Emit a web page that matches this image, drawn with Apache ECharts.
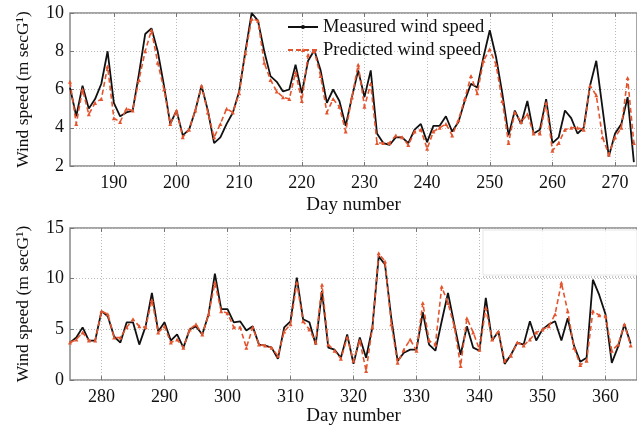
<!DOCTYPE html>
<html><head><meta charset="utf-8">
<script src="https://cdn.jsdelivr.net/npm/echarts@6/dist/echarts.min.js"></script>
<style>html,body{margin:0;padding:0;background:#fff}#c{width:637px;height:427px}</style>
</head><body><div id="c"></div>
<script>
// Top panel: days 183..273
const days1 = [183,184,185,186,187,188,189,190,191,192,193,194,195,196,197,198,199,200,201,202,203,204,205,206,207,208,209,210,211,212,213,214,215,216,217,218,219,220,221,222,223,224,225,226,227,228,229,230,231,232,233,234,235,236,237,238,239,240,241,242,243,244,245,246,247,248,249,250,251,252,253,254,255,256,257,258,259,260,261,262,263,264,265,266,267,268,269,270,271,272,273];
const measured1 = [6.1,4.6,6.2,5.0,5.5,6.3,8.0,5.3,4.6,4.8,4.9,6.8,8.9,9.2,8.0,6.2,4.2,4.9,3.6,3.9,4.9,6.2,4.9,3.2,3.5,4.2,4.8,5.9,8.0,10.0,9.6,8.0,6.7,6.4,5.9,6.0,7.3,5.8,7.5,8.05,7.0,5.3,6.0,5.4,4.1,5.6,7.0,5.6,7.0,3.7,3.2,3.1,3.5,3.5,3.2,3.9,4.2,3.25,4.1,4.1,4.6,3.8,4.3,5.4,6.3,6.1,7.7,9.1,7.7,5.8,3.6,4.9,4.2,5.4,3.7,3.9,5.5,3.2,3.5,4.9,4.5,3.7,4.0,6.2,7.5,5.0,2.5,3.7,4.2,5.6,2.2];
const predicted1 = [6.4,4.2,6.0,4.7,5.3,5.5,7.2,4.5,4.3,5.0,4.9,6.5,8.0,9.1,7.4,6.0,4.2,4.9,3.5,3.9,4.9,6.2,4.8,3.5,4.2,5.0,4.8,5.8,7.9,9.7,9.6,7.4,6.5,5.9,5.6,5.5,6.9,5.4,7.8,8.0,6.7,4.8,5.5,5.1,3.8,5.6,7.3,5.1,6.3,3.2,3.2,3.2,3.6,3.5,3.1,3.8,3.9,2.9,3.8,4.0,4.2,3.6,4.4,5.5,6.7,5.8,7.5,8.1,7.3,5.4,3.2,4.8,4.3,4.7,3.7,3.7,5.3,2.8,3.2,3.9,4.0,4.0,3.9,6.2,5.7,3.5,2.6,3.5,4.0,6.6,3.2];
// Bottom panel: days 275..364
const days2 = [275,276,277,278,279,280,281,282,283,284,285,286,287,288,289,290,291,292,293,294,295,296,297,298,299,300,301,302,303,304,305,306,307,308,309,310,311,312,313,314,315,316,317,318,319,320,321,322,323,324,325,326,327,328,329,330,331,332,333,334,335,336,337,338,339,340,341,342,343,344,345,346,347,348,349,350,351,352,353,354,355,356,357,358,359,360,361,362,363,364];
const measured2 = [3.7,4.2,5.2,3.9,3.9,6.8,6.3,4.3,3.7,5.7,5.7,3.5,5.3,8.6,4.8,5.7,3.9,4.5,3.2,5.0,5.3,4.5,6.5,10.5,7.0,7.0,5.7,5.8,4.9,5.3,3.5,3.4,3.2,2.1,5.2,5.8,10.1,6.0,5.7,3.5,8.8,3.2,3.0,2.2,4.5,1.6,4.2,2.2,5.2,12.2,11.4,6.1,1.9,2.7,3.0,3.0,6.7,3.5,2.9,5.8,8.6,5.5,2.5,5.3,3.2,2.9,8.1,3.9,4.8,1.6,2.5,3.7,3.5,5.8,3.9,5.0,5.5,5.8,3.9,6.1,3.4,1.8,2.2,9.9,8.4,6.5,1.7,3.3,5.5,3.6];
const predicted2 = [3.7,4.0,4.7,3.9,3.9,6.8,6.5,4.2,4.2,5.2,6.0,5.3,5.2,7.9,4.7,5.3,3.7,4.0,3.2,5.0,5.5,4.5,6.5,9.6,6.8,6.6,5.2,5.2,3.2,5.2,3.5,3.4,3.2,2.4,4.8,5.5,9.6,5.8,5.0,3.7,9.4,3.5,2.9,2.1,4.2,1.9,3.9,0.9,5.2,12.5,11.7,5.5,1.7,3.0,4.0,2.9,7.6,3.9,3.5,9.2,7.6,5.3,1.4,6.1,4.7,3.0,7.1,4.0,4.8,1.9,2.4,3.7,3.4,4.0,4.7,5.0,5.3,6.5,9.6,6.8,3.2,1.5,1.9,6.8,6.4,6.3,2.9,3.5,5.5,3.4];
const xTicks1 = [190,200,210,220,230,240,250,260,270];
const xTicks2 = [280,290,300,310,320,330,340,350,360];

const FONT = '"Liberation Serif","Times New Roman",serif';
const RED = '#e4552e';
const pair = (xs, ys) => xs.map((x, i) => [x, ys[i]]);

const chart = echarts.init(document.getElementById('c'), null, {renderer: 'canvas'});

function xAx(grid, min, max, ticks, gap, pos) {
  const top = pos === 'top';
  return {
    type: 'value', gridIndex: grid, min: min, max: max, position: pos,
    name: top ? '' : 'Day number', nameLocation: 'middle', nameGap: gap,
    nameTextStyle: {fontFamily: FONT, fontSize: 19, color: '#111'},
    axisLine: {show: false},
    axisTick: {show: true, inside: true, length: 4, lineStyle: {color: '#777'}, customValues: ticks},
    axisLabel: {show: !top, fontFamily: FONT, fontSize: 18, color: '#111', margin: 8, customValues: ticks},
    splitLine: {show: !top, lineStyle: {type: [1, 2], color: '#bbb', width: 1}}
  };
}
function yAx(grid, min, max, interval) {
  return {
    type: 'value', gridIndex: grid, min: min, max: max, interval: interval,
    name: 'Wind speed (m secG¹)', nameLocation: 'middle', nameGap: 38, nameRotate: 90,
    nameTextStyle: {fontFamily: FONT, fontSize: 17.5, color: '#111'},
    axisLine: {show: false},
    axisTick: {show: true, inside: true, length: 4, lineStyle: {color: '#777'}},
    axisLabel: {fontFamily: FONT, fontSize: 18, color: '#111', margin: 6},
    splitLine: {show: true, lineStyle: {type: [1, 2], color: '#bbb', width: 1}}
  };
}
function meas(name, xi, yi, data) {
  return {type: 'line', name: name, xAxisIndex: xi, yAxisIndex: yi, data: data,
    showSymbol: false, symbol: 'none', animation: false, z: 3,
    lineStyle: {color: '#111', width: 1.8}, itemStyle: {color: '#111'}};
}
function pred(name, xi, yi, data) {
  return {type: 'line', name: name, xAxisIndex: xi, yAxisIndex: yi, data: data,
    symbol: 'triangle', symbolSize: 4, showSymbol: true, animation: false, z: 4,
    lineStyle: {color: RED, width: 1.6, type: [5, 3]}, itemStyle: {color: RED}};
}

chart.setOption({
  backgroundColor: '#fff',
  animation: false,
  grid: [
    {left: 70, top: 13, width: 568, height: 153, show: true, borderColor: '#888', borderWidth: 1.5, backgroundColor: 'transparent'},
    {left: 70, top: 228, width: 570, height: 153, show: true, borderColor: '#888', borderWidth: 1.5, backgroundColor: 'transparent'}
  ],
  xAxis: [
    xAx(0, 183, 273.5, xTicks1, 30, 'bottom'),
    xAx(1, 275, 365, xTicks2, 25, 'bottom'),
    xAx(0, 183, 273.5, xTicks1, 0, 'top'),
    xAx(1, 275, 365, xTicks2, 0, 'top')
  ],
  yAxis: [yAx(0, 2, 10, 2), yAx(1, 0, 15, 5)],
  legend: {
    orient: 'vertical', left: 282, top: 12, itemWidth: 30, itemHeight: 5, itemGap: 3,
    textStyle: {fontFamily: FONT, fontSize: 18.5, color: '#111', lineHeight: 20},
    data: ['Measured wind speed', 'Predicted wind speed']
  },
  graphic: [
    {type: 'rect', shape: {x: 483, y: 230, width: 160, height: 45},
      style: {fill: 'rgba(255,255,255,0.85)', stroke: '#e6e6e6', lineWidth: 1}, z: 10},
    {type: 'line', shape: {x1: 483, y1: 277, x2: 637, y2: 277},
      style: {stroke: '#888', lineWidth: 1, lineDash: [1, 2]}, z: 10}
  ],
  series: [
    meas('Measured wind speed', 0, 0, pair(days1, measured1)),
    pred('Predicted wind speed', 0, 0, pair(days1, predicted1)),
    meas('Measured wind speed', 1, 1, pair(days2, measured2)),
    pred('Predicted wind speed', 1, 1, pair(days2, predicted2))
  ]
});
</script>
</body></html>
